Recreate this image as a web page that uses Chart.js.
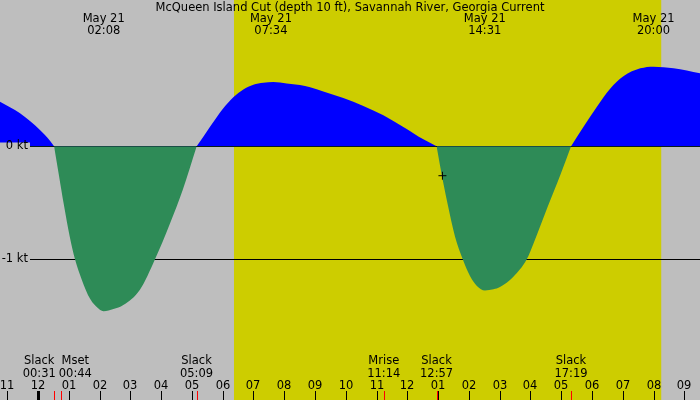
<!DOCTYPE html>
<html>
<head>
<meta charset="utf-8">
<title>McQueen Island Cut current</title>
<script src="https://cdn.jsdelivr.net/npm/chart.js@4/dist/chart.umd.min.js"></script>
<style>
    html, body { margin: 0; padding: 0; background: #bebebe; }
    #wrap { width: 700px; height: 400px; position: relative; }
</style>
</head>
<body>
<div id="wrap"><canvas id="tide"></canvas></div>
<script>
const TITLE = 'McQueen Island Cut (depth 10 ft), Savannah River, Georgia Current';
const DAY = 'May 21';

// current curve, hours from midnight May 21 and speed in knots (flood negative)
const hours = [-1.237, -0.587, 0.062, 0.387, 0.52,
    0.68, 0.84, 1.03, 1.20, 1.42, 1.69, 1.98, 2.13, 2.45, 2.77, 3.31, 3.80, 4.29, 4.70, 5.155,
    5.37, 5.588, 5.805, 6.02, 6.345, 6.67, 6.995, 7.32, 7.645, 8.08, 8.51, 8.84,
    9.27, 9.92, 10.57, 11.22, 11.87, 12.52, 12.95,
    13.11, 13.30, 13.55, 13.80, 14.04, 14.26, 14.52, 14.80, 15.01, 15.445, 15.88, 16.10, 16.56, 16.99, 17.32,
    17.72, 18.16, 18.59, 19.02, 19.57, 20.00, 20.65, 21.51];
const knots = [0.395, 0.292, 0.144, 0.05, 0,
    -0.26, -0.52, -0.80, -1.0, -1.18, -1.35, -1.44, -1.46, -1.44, -1.405, -1.27, -1.0, -0.68, -0.387, 0,
    0.085, 0.173, 0.257, 0.336, 0.434, 0.504, 0.545, 0.563, 0.569, 0.557, 0.542, 0.522,
    0.486, 0.428, 0.358, 0.275, 0.172, 0.062, 0,
    -0.24, -0.50, -0.80, -1.0, -1.15, -1.235, -1.275, -1.265, -1.245, -1.155, -1.0, -0.86, -0.535, -0.24, 0,
    0.17, 0.35, 0.51, 0.62, 0.69, 0.705, 0.69, 0.646];

// max flood / ebb times shown along the top
const peakTimes = ['02:08', '07:34', '14:31', '20:00'];

// slack and moon events shown along the bottom
const eventNames = ['Slack', 'Mset', 'Slack', 'Mrise', 'Slack', 'Slack'];
const eventTimes = ['00:31', '00:44', '05:09', '11:14', '12:57', '17:19'];

const sunrise = '06:22';
const sunset = '20:15';

// hour ticks from 11 pm the evening before to 9 pm
const tickHours = [-1, 0, 1, 2, 3, 4, 5, 6, 7, 8, 9, 10, 11, 12, 13, 14, 15, 16, 17, 18, 19, 20, 21];
const tickLabels = ['11', '12', '01', '02', '03', '04', '05', '06', '07', '08', '09', '10',
    '11', '12', '01', '02', '03', '04', '05', '06', '07', '08', '09'];

const knotLines = [0, -1];
const knotLabels = ['0 kt', '-1 kt'];

// marker for the current moment
const nowHour = 13.14;
const nowKnots = -0.26;

const X_MIN = -1.237;
const X_MAX = 21.51;
const Y_MIN = -2.245;
const Y_MAX = 1.295;

const FONT = '11.5px "DejaVu Sans", sans-serif';
const NIGHT = '#bebebe';
const DAYLIGHT = '#cdcd00';

function toHours(hhmm) {
    const [h, m] = hhmm.split(':').map(Number);
    return h + m / 60;
}

// break the curve at each slack so ebb and flood get their own spline pieces
function curvePoints() {
    const pts = [];
    hours.forEach((h, i) => {
        pts.push({ x: h, y: knots[i] });
        if (knots[i] === 0 && i > 0 && i < hours.length - 1) {
            pts.push({ x: h, y: null });
            pts.push({ x: h, y: 0 });
        }
    });
    return pts;
}

const tideDecor = {
    id: 'tideDecor',
    beforeDraw(chart) {
        const { ctx, width, height } = chart;
        const x = chart.scales.x;
        ctx.save();
        ctx.fillStyle = NIGHT;
        ctx.fillRect(0, 0, width, height);
        const x0 = x.getPixelForValue(toHours(sunrise));
        const x1 = x.getPixelForValue(toHours(sunset));
        ctx.fillStyle = DAYLIGHT;
        ctx.fillRect(x0, 0, x1 - x0, height);
        ctx.restore();
    },
    beforeDatasetsDraw(chart) {
        const { ctx, width } = chart;
        const y = chart.scales.y;
        ctx.save();
        ctx.strokeStyle = '#000';
        ctx.lineWidth = 1;
        knotLines.forEach((v) => {
            const py = Math.round(y.getPixelForValue(v)) + 0.5;
            ctx.beginPath();
            ctx.moveTo(30, py);
            ctx.lineTo(width, py);
            ctx.stroke();
        });
        ctx.restore();
    },
    afterDatasetsDraw(chart) {
        const { ctx } = chart;
        const y = chart.scales.y;
        ctx.save();
        ctx.font = FONT;
        ctx.textAlign = 'right';
        ctx.textBaseline = 'middle';
        knotLines.forEach((v, i) => {
            const py = Math.round(y.getPixelForValue(v)) + 0.5;
            ctx.fillStyle = NIGHT;
            ctx.fillRect(0, py - 4, 30, 9);
            ctx.fillStyle = '#000';
            ctx.fillText(knotLabels[i], 28, py);
        });
        ctx.restore();
    },
    afterDraw(chart) {
        const { ctx, width, height } = chart;
        const x = chart.scales.x;
        ctx.save();
        ctx.font = FONT;
        ctx.fillStyle = '#000';
        ctx.textAlign = 'center';
        ctx.textBaseline = 'middle';

        ctx.fillText(TITLE, width / 2, 8);

        peakTimes.forEach((t) => {
            const px = x.getPixelForValue(toHours(t));
            ctx.fillText(DAY, px, 19.5);
            ctx.fillText(t, px, 31.5);
        });

        // event labels, pushed apart where they would overlap
        const labels = eventNames.map((name, i) => {
            const px = x.getPixelForValue(toHours(eventTimes[i]));
            const w = Math.max(ctx.measureText(name).width, ctx.measureText(eventTimes[i]).width);
            return { name, time: eventTimes[i], px, cx: px, w };
        });
        for (let i = 1; i < labels.length; i++) {
            const a = labels[i - 1];
            const b = labels[i];
            const overlap = (a.cx + a.w / 2 + 3) - (b.cx - b.w / 2);
            if (overlap > 0) {
                a.cx -= overlap / 2;
                b.cx += overlap / 2;
            }
        }
        labels.forEach((l) => {
            ctx.fillText(l.name, l.cx, 361.5);
            ctx.fillText(l.time, l.cx, 374);
        });

        // hour ticks
        ctx.strokeStyle = '#000';
        tickHours.forEach((h, i) => {
            const px = Math.round(x.getPixelForValue(h));
            ctx.fillText(tickLabels[i], px, 386);
            ctx.lineWidth = h === 0 ? 3 : 1;
            ctx.beginPath();
            ctx.moveTo(px + 0.5, 391);
            ctx.lineTo(px + 0.5, height);
            ctx.stroke();
        });

        ctx.strokeStyle = '#ff0000';
        ctx.lineWidth = 1;
        labels.forEach((l) => {
            const px = Math.round(l.px) + 0.5;
            ctx.beginPath();
            ctx.moveTo(px, 391);
            ctx.lineTo(px, height);
            ctx.stroke();
        });
        ctx.restore();
    },
};

new Chart(document.getElementById('tide').getContext('2d'), {
    type: 'line',
    data: {
        datasets: [{
            label: 'now',
            data: [{ x: nowHour, y: nowKnots }],
            showLine: false,
            pointStyle: 'cross',
            pointRadius: 4,
            pointBorderColor: '#000',
            pointBorderWidth: 1,
            fill: false,
            order: 0,
        }, {
            label: 'current',
            data: curvePoints(),
            borderWidth: 0,
            borderColor: 'rgba(0,0,0,0)',
            pointRadius: 0,
            spanGaps: false,
            cubicInterpolationMode: 'monotone',
            fill: { target: { value: 0 }, above: '#0000ff', below: '#2e8b57' },
            order: 1,
        }],
    },
    options: {
        responsive: true,
        maintainAspectRatio: false,
        animation: false,
        layout: { padding: 0, autoPadding: false },
        plugins: { legend: { display: false }, tooltip: { enabled: false } },
        scales: {
            x: { type: 'linear', min: X_MIN, max: X_MAX, display: false },
            y: { min: Y_MIN, max: Y_MAX, display: false },
        },
    },
    plugins: [tideDecor],
});
</script>
</body>
</html>
